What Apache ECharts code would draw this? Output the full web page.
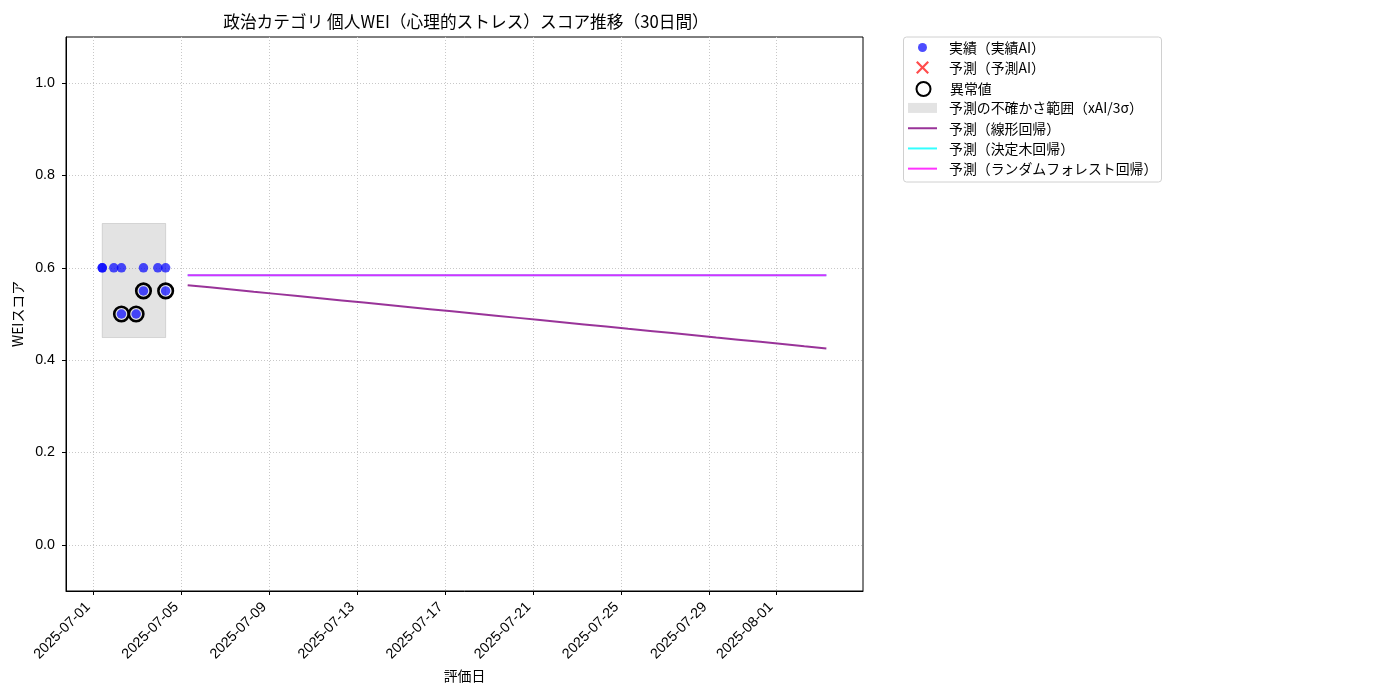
<!DOCTYPE html>
<html><head><meta charset="utf-8">
<script src="https://cdn.jsdelivr.net/npm/echarts@6/dist/echarts.min.js"></script>
<style>html,body{margin:0;padding:0;background:#fff}#c{width:1400px;height:700px}</style>
</head><body><div id="c"></div>
<script>
// ---- text ----
const titleText = '政治カテゴリ 個人WEI（心理的ストレス）スコア推移（30日間）';
const xAxisName = '評価日';
const yAxisName = 'WEIスコア';
// ---- ticks ----
const xTickLabels = ['2025-07-01','2025-07-05','2025-07-09','2025-07-13','2025-07-17','2025-07-21','2025-07-25','2025-07-29','2025-08-01'];
const yTickValues = [0.0, 0.2, 0.4, 0.6, 0.8, 1.0];
const xRange = ['2025-06-29 18:30', '2025-08-04 23:00'];
const yRange = [-0.1, 1.1];
// ---- series names ----
const seriesNames = ['実績（実績AI）','予測（予測AI）','異常値','予測の不確かさ範囲（xAI/3σ）','予測（線形回帰）','予測（決定木回帰）','予測（ランダムフォレスト回帰）'];
// ---- actual values ----
const actualDates = ['2025-07-01 10:00','2025-07-01 10:00','2025-07-01 22:35','2025-07-02 06:55','2025-07-02 06:55','2025-07-02 22:55','2025-07-03 06:55','2025-07-03 06:55','2025-07-03 22:35','2025-07-04 07:05','2025-07-04 07:05'];
const actualValues = [0.60, 0.60, 0.60, 0.60, 0.50, 0.50, 0.60, 0.55, 0.60, 0.60, 0.55];
// ---- predicted (AI) points: none visible ----
const predAIDates = [];
const predAIValues = [];
// ---- outliers ----
const outlierDates = ['2025-07-02 06:55','2025-07-02 22:55','2025-07-03 06:55','2025-07-04 07:05'];
const outlierValues = [0.50, 0.50, 0.55, 0.55];
// ---- uncertainty band ----
const bandDates = ['2025-07-01 10:00', '2025-07-04 07:05'];
const bandValues = [0.449, 0.696];
// ---- forecasts ----
const forecastDates = ['2025-07-05 07:05','2025-07-06 07:05','2025-07-07 07:05','2025-07-08 07:05','2025-07-09 07:05','2025-07-10 07:05','2025-07-11 07:05','2025-07-12 07:05','2025-07-13 07:05','2025-07-14 07:05','2025-07-15 07:05','2025-07-16 07:05','2025-07-17 07:05','2025-07-18 07:05','2025-07-19 07:05','2025-07-20 07:05','2025-07-21 07:05','2025-07-22 07:05','2025-07-23 07:05','2025-07-24 07:05','2025-07-25 07:05','2025-07-26 07:05','2025-07-27 07:05','2025-07-28 07:05','2025-07-29 07:05','2025-07-30 07:05','2025-07-31 07:05','2025-08-01 07:05','2025-08-02 07:05','2025-08-03 07:05'];
const linearValues = [0.5625,0.5578,0.5531,0.5483,0.5436,0.5389,0.5341,0.5294,0.5247,0.5200,0.5153,0.5105,0.5058,0.5011,0.4964,0.4916,0.4869,0.4822,0.4775,0.4728,0.4680,0.4633,0.4586,0.4539,0.4491,0.4444,0.4397,0.4350,0.4302,0.4255];
const treeValues = [0.584,0.584,0.584,0.584,0.584,0.584,0.584,0.584,0.584,0.584,0.584,0.584,0.584,0.584,0.584,0.584,0.584,0.584,0.584,0.584,0.584,0.584,0.584,0.584,0.584,0.584,0.584,0.584,0.584,0.584];
const forestValues = [0.584,0.584,0.584,0.584,0.584,0.584,0.584,0.584,0.584,0.584,0.584,0.584,0.584,0.584,0.584,0.584,0.584,0.584,0.584,0.584,0.584,0.584,0.584,0.584,0.584,0.584,0.584,0.584,0.584,0.584];

const ts = s => echarts.time.parse(s).getTime();
const pairs = (d, v) => d.map((x, i) => [ts(x), v[i]]);
const pad = n => (n < 10 ? '0' : '') + n;
const FONT = '"Noto Sans CJK JP", "Noto Sans", sans-serif';
const TICKFONT = '"Liberation Sans", "Noto Sans", sans-serif';
const FS = 13.9;
const TFS = 14.3;
const xPath = 'path://M1.2,0L5,3.8L8.8,0L10,1.2L6.2,5L10,8.8L8.8,10L5,6.2L1.2,10L0,8.8L3.8,5L0,1.2Z';

// legend layout
const legendRows = [47.5, 67.5, 88, 108, 128.3, 148.5, 168.7];
const legendIconCx = 922.5;
const legendTextX = 949;
const legendW = [9, 13, 14, 29, 29, 29, 29];
const legendH = [9, 13, 14, 10, 2, 2, 2];
const legendIcons = ['circle', xPath, 'circle', 'rect', 'rect', 'rect', 'rect'];

const chart = echarts.init(document.getElementById('c'), null, {renderer: 'canvas'});
chart.setOption({
  animation: false,
  textStyle: {fontFamily: FONT},
  title: {
    text: titleText, left: 461, top: 8, textAlign: 'center',
    textStyle: {fontSize: 16.7, fontWeight: 'normal', color: '#000', fontFamily: FONT}
  },
  grid: {left: 66, right: 537, top: 37, bottom: 109, show: true, borderColor: '#000', borderWidth: 1, backgroundColor: 'transparent'},
  xAxis: {
    type: 'value', min: ts(xRange[0]), max: ts(xRange[1]), scale: true,
    name: xAxisName, nameLocation: 'middle', nameGap: 78,
    nameTextStyle: {fontSize: FS, color: '#000', fontFamily: FONT},
    axisLine: {onZero: false, lineStyle: {color: '#000', width: 1}},
    axisTick: {show: true, length: 4, lineStyle: {color: '#000'}, customValues: xTickLabels.map(ts)},
    axisLabel: {
      customValues: xTickLabels.map(ts), rotate: 45, fontSize: TFS, color: '#000', margin: 9, padding: [0, 7, 0, 0], fontFamily: TICKFONT,
      formatter: v => { const d = new Date(v); return d.getFullYear() + '-' + pad(d.getMonth() + 1) + '-' + pad(d.getDate()); }
    },
    splitLine: {show: true, lineStyle: {color: '#c8c8c8', width: 1, type: [1, 2]}}
  },
  yAxis: {
    type: 'value', min: yRange[0], max: yRange[1],
    name: yAxisName, nameLocation: 'middle', nameGap: 37,
    nameTextStyle: {fontSize: FS, color: '#000', fontFamily: FONT},
    axisLine: {show: true, onZero: false, lineStyle: {color: '#000', width: 1}},
    axisTick: {show: true, length: 4, lineStyle: {color: '#000'}, customValues: yTickValues},
    axisLabel: {customValues: yTickValues, fontSize: TFS, color: '#000', margin: 11, fontFamily: TICKFONT, formatter: v => v.toFixed(1)},
    splitLine: {show: true, lineStyle: {color: '#c8c8c8', width: 1, type: [1, 2]}}
  },
  legend: seriesNames.map((n, i) => {
    const item = {name: n, icon: legendIcons[i]};
    const w = legendW[i], h = legendH[i];
    const left = legendIconCx - w / 2;
    return {
      data: [item], left: left, top: legendRows[i] - Math.max(h, 14) / 2,
      itemWidth: w, itemHeight: h, padding: 0, selectedMode: false,
      textStyle: {fontSize: FS, color: '#000', fontFamily: FONT, padding: [0, 0, 0, legendTextX - (left + w + 5)]}
    };
  }),
  graphic: [{
    type: 'rect', left: 903, top: 36.5, z: -1,
    shape: {width: 258, height: 145, r: 3},
    style: {fill: 'rgba(255,255,255,0.8)', stroke: '#d0d0d0', lineWidth: 1}
  }],
  series: [
    {
      name: seriesNames[3], type: 'custom', z: 1,
      itemStyle: {color: 'rgba(128,128,128,0.22)'},
      renderItem: (params, api) => {
        const p0 = api.coord([api.value(0), api.value(3)]);
        const p1 = api.coord([api.value(1), api.value(2)]);
        return {type: 'rect', shape: {x: p0[0], y: p0[1], width: p1[0] - p0[0], height: p1[1] - p0[1]},
                style: {fill: 'rgba(128,128,128,0.22)', stroke: 'rgba(128,128,128,0.25)', lineWidth: 1}};
      },
      encode: {x: [0, 1], y: [2, 3]},
      data: [[ts(bandDates[0]), ts(bandDates[1]), bandValues[0], bandValues[1]]]
    },
    {
      name: seriesNames[0], type: 'scatter', z: 2, symbol: 'circle', symbolSize: 9.5,
      itemStyle: {color: 'rgba(0,0,255,0.7)', opacity: 1},
      data: pairs(actualDates, actualValues)
    },
    {
      name: seriesNames[1], type: 'scatter', z: 2, symbol: xPath, symbolSize: 13,
      itemStyle: {color: 'rgba(255,0,0,0.7)', opacity: 1},
      data: pairs(predAIDates, predAIValues)
    },
    {
      name: seriesNames[2], type: 'scatter', z: 3, symbol: 'circle', symbolSize: 14.5,
      itemStyle: {color: 'rgba(0,0,0,0)', borderColor: '#000', borderWidth: 2.6, opacity: 1},
      data: pairs(outlierDates, outlierValues)
    },
    {
      name: seriesNames[4], type: 'line', z: 4, symbol: 'none', showSymbol: false,
      itemStyle: {color: 'rgba(128,0,128,0.8)'},
      lineStyle: {color: 'rgba(128,0,128,0.8)', width: 2},
      data: pairs(forecastDates, linearValues)
    },
    {
      name: seriesNames[5], type: 'line', z: 4, symbol: 'none', showSymbol: false,
      itemStyle: {color: 'rgba(0,255,255,0.8)'},
      lineStyle: {color: 'rgba(0,255,255,0.8)', width: 2},
      data: pairs(forecastDates, treeValues)
    },
    {
      name: seriesNames[6], type: 'line', z: 5, symbol: 'none', showSymbol: false,
      itemStyle: {color: 'rgba(255,0,255,0.8)'},
      lineStyle: {color: 'rgba(255,0,255,0.8)', width: 2},
      data: pairs(forecastDates, forestValues)
    }
  ]
});
</script></body></html>
